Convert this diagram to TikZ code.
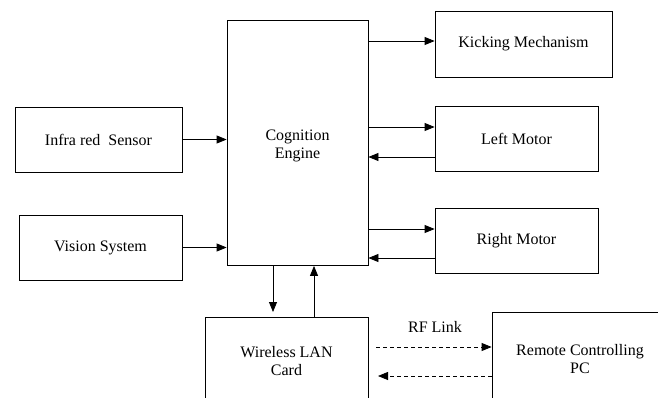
\documentclass[tikz,border=0pt]{standalone}
\usepackage{fontspec}
\setmainfont{Liberation Serif}
\usetikzlibrary{arrows.meta}
\begin{document}
\begin{tikzpicture}[x=1pt,y=-1pt,
  box/.style={draw,line width=0.8pt,rectangle,inner sep=0pt,align=center,font=\fontsize{16}{18.5}\selectfont},
  lbl/.style={inner sep=0pt,align=center,font=\fontsize{16}{18.5}\selectfont},
  conn/.style={line width=0.8pt,-{Triangle[length=10pt,width=8pt]}},
  dconn/.style={conn,dash pattern=on 4pt off 3pt}]
\useasboundingbox[fill=white] (0,0) rectangle (658,398);
\clip (0,0) rectangle (658,398);
\node[box,minimum width=141,minimum height=245] (cog) at (297.5,143) {};
\node[lbl] (cogt) at (297.5,146) {Cognition\\Engine};
\node[box,minimum width=167,minimum height=65] (ir) at (98.5,139.5) {Infra red\ \ Sensor};
\node[box,minimum width=163,minimum height=65] (vis) at (100.5,247.5) {Vision System};
\node[box,minimum width=177,minimum height=66] (kick) at (523.5,44) {Kicking Mechanism};
\node[box,minimum width=163,minimum height=65] (lm) at (516.5,138.5) {Left Motor};
\node[box,minimum width=163,minimum height=65] (rm) at (516.5,240.5) {Right Motor};
\node[box,minimum width=163,minimum height=88] (wl) at (286.5,361) {Wireless LAN\\Card};
\node[box,minimum width=176,minimum height=94] (rc) at (580,359) {Remote Controlling\\PC};
\node[lbl] (rf) at (435,327) {RF Link};
% connectors
\draw[conn] (ir.east) -- (cog.west |- ir.east);
\draw[conn] (vis.east) -- (cog.west |- vis.east);
\draw[conn] (cog.east |- 0,41) -- (kick.west |- 0,41);
\draw[conn] (cog.east |- 0,127) -- (lm.west |- 0,127);
\draw[conn] (lm.west |- 0,157) -- (cog.east |- 0,157);
\draw[conn] (cog.east |- 0,229) -- (rm.west |- 0,229);
\draw[conn] (rm.west |- 0,258) -- (cog.east |- 0,258);
\coordinate (dn) at (273,312);
\draw[conn] (cog.south -| dn) -- (dn);
\draw[conn] (wl.north -| 314,0) -- (cog.south -| 314,0);
\coordinate (rfa) at (376,347);
\coordinate (rfb) at (378,376);
\draw[dconn] (rfa) -- (rc.west |- rfa);
\draw[dconn] (rc.west |- rfb) -- (rfb);
\end{tikzpicture}
\end{document}
